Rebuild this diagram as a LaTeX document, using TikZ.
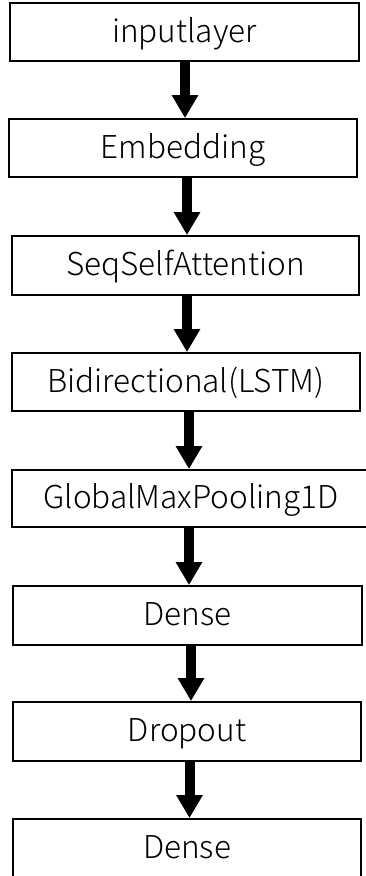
\documentclass[tikz,border=0pt]{standalone}
\usepackage{fontspec}
\setmainfont{Noto Sans CJK JP Light}
\usetikzlibrary{arrows.meta}
\begin{document}
\begin{tikzpicture}[x=1pt,y=1pt,
  layer/.style={draw, line width=1.8pt, rectangle, inner sep=0pt,
    text height=20pt, text depth=0pt, font=\fontsize{31.5}{36}\selectfont},
  flow/.style={line width=10pt, -{Triangle[length=23pt,width=25pt]}}]
\useasboundingbox (0,0) rectangle (366,-876);
\clip (0,0) rectangle (366,-876);

% layer boxes, top to bottom
\node[layer, minimum width=349pt, minimum height=58pt] (b1) at (184.5,-32)  {inputlayer};
\node[layer, minimum width=348pt, minimum height=58pt] (b2) at (183,-148)   {Embedding};
\node[layer, minimum width=347pt, minimum height=59pt] (b3) at (185.5,-265.5) {SeqSelfAttention};
\node[layer, minimum width=348pt, minimum height=58pt] (b4) at (186,-382)   {Bidirectional(LSTM)};
\node[layer, minimum width=358pt, minimum height=57pt] (b5) at (191,-498.5) {GlobalMaxPooling1D};
\node[layer, minimum width=349pt, minimum height=59pt] (b6) at (187.5,-615.5) {Dense};
\node[layer, minimum width=348pt, minimum height=59pt] (b7) at (187,-731.5) {Dropout};
\node[layer, minimum width=348pt, minimum height=58pt] (b8) at (187,-848)   {Dense};

% columns of the connecting arrows
\coordinate (c1) at (185,0);
\coordinate (c2) at (187,0);
\coordinate (c3) at (187,0);
\coordinate (c4) at (189,0);
\coordinate (c5) at (189,0);
\coordinate (c6) at (191,0);
\coordinate (c7) at (189.5,0);

\draw[flow] (b1.south -| c1) -- (b2.north -| c1);
\draw[flow] (b2.south -| c2) -- (b3.north -| c2);
\draw[flow] (b3.south -| c3) -- (b4.north -| c3);
\draw[flow] (b4.south -| c4) -- (b5.north -| c4);
\draw[flow] (b5.south -| c5) -- (b6.north -| c5);
\draw[flow] (b6.south -| c6) -- (b7.north -| c6);
\draw[flow] (b7.south -| c7) -- (b8.north -| c7);
\end{tikzpicture}
\end{document}
